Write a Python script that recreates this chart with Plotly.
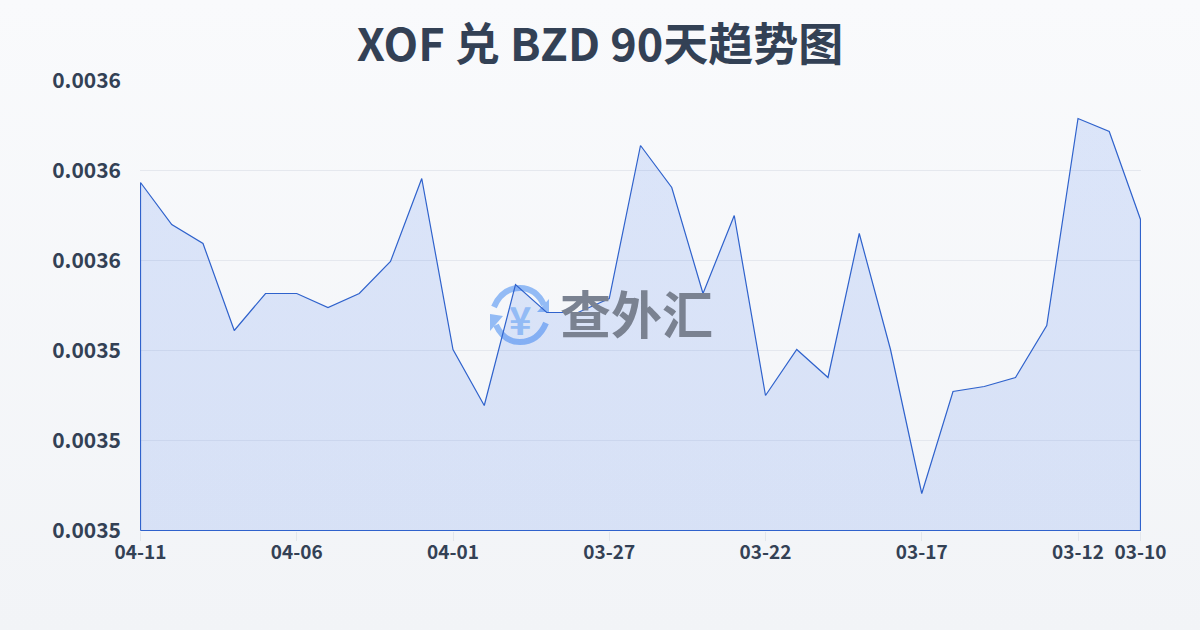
import plotly.graph_objects as go

title = "XOF 兑 BZD 90天趋势图"
dates = ["04-11","04-10","04-09","04-08","04-07","04-06","04-05","04-04","04-03","04-02","04-01",
         "03-31","03-30","03-29","03-28","03-27","03-26","03-25","03-24","03-23","03-22","03-21",
         "03-20","03-19","03-18","03-17","03-16","03-15","03-14","03-13","03-12","03-11","03-10"]
values = [0.003558667,0.003554,0.003551889,0.003542222,0.003546333,0.003546333,0.003544778,0.003546333,
          0.003549889,0.003559111,0.003540111,0.003533889,0.003547333,0.003544222,0.003544222,0.003545778,
          0.003562778,0.003558111,0.003546333,0.003555,0.003535,0.003540111,0.003537,0.003553,
          0.003540111,0.003524111,0.003535444,0.003536,0.003537,0.003542778,0.003565778,0.003564333,0.003554556]
x_ticks = ["04-11","04-06","04-01","03-27","03-22","03-17","03-12","03-10"]
y_ticks = [0.00352,0.00353,0.00354,0.00355,0.00356,0.00357]
y_labels = ["0.0035","0.0035","0.0035","0.0036","0.0036","0.0036"]
y_min, y_max = 0.00352, 0.00357

W, H = 1200, 630
L, T, PW, PH = 140, 80, 1001, 451
def px(v): return (v - L) / PW
def py(v): return 1 - (v - T) / PH
half_y = (y_max - y_min) / 450 / 2
half_x = (len(dates) - 1) / 1000 / 2
FONT = "'Noto Sans CJK SC',sans-serif"

fig = go.Figure()
fig.add_trace(go.Scatter(
    x=[dates[0]] + dates + [dates[-1], dates[0]],
    y=[y_min] + values + [y_min, y_min],
    mode="lines",
    line=dict(color="#2f62cc", width=1.2),
    fill="toself",
    fillgradient=dict(type="vertical",
                      colorscale=[[0, "rgba(37,99,235,0.135)"], [1, "rgba(37,99,235,0.135)"]]),
    hoverinfo="skip",
    showlegend=False,
    cliponaxis=False,
))

cx, cy = 520, 315
blue = "#93bbf5"
shapes = [
    dict(type="path", layer="below", xref="paper", yref="paper", line=dict(color=blue, width=6),
         path=f"M {px(cx-26)} {py(cy-8)} Q {px(cx-18)} {py(cy-27)} {px(cx)} {py(cy-27)} Q {px(cx+16)} {py(cy-27)} {px(cx+24)} {py(cy-10)}"),
    dict(type="path", layer="below", xref="paper", yref="paper", line=dict(color=blue, width=6),
         path=f"M {px(cx+26)} {py(cy+8)} Q {px(cx+18)} {py(cy+27)} {px(cx)} {py(cy+27)} Q {px(cx-16)} {py(cy+27)} {px(cx-24)} {py(cy+10)}"),
    dict(type="path", layer="below", xref="paper", yref="paper", line=dict(width=0), fillcolor=blue,
         path=f"M {px(cx+17)} {py(cy-3)} L {px(cx+29)} {py(cy-3)} L {px(cx+29)} {py(cy-16)} Z"),
    dict(type="path", layer="below", xref="paper", yref="paper", line=dict(width=0), fillcolor=blue,
         path=f"M {px(cx-30)} {py(cy-1)} L {px(cx-17)} {py(cy+1)} L {px(cx-30)} {py(cy+16)} Z"),
]

fig.update_layout(
    width=W, height=H, autosize=False,
    margin=dict(l=L, r=W-L-PW, t=T, b=H-T-PH, pad=0),
    paper_bgcolor="rgba(0,0,0,0)", plot_bgcolor="rgba(0,0,0,0)",
    font=dict(family=FONT, color="#374151"),
    title=dict(text=f"<b>{title}</b>", x=0.5, xanchor="center", xref="container", y=1-45/H, yanchor="middle",
               font=dict(size=45, color="#334155", family=FONT)),
    shapes=shapes,
    annotations=[
        dict(text="<b>¥</b>", xref="paper", yref="paper", x=px(cx), y=py(cy+3), showarrow=False,
             font=dict(size=38, color=blue), xanchor="center", yanchor="middle"),
        dict(text="<b>查外汇</b>", xref="paper", yref="paper", x=px(636), y=py(312), showarrow=False,
             font=dict(size=51, color="#7a8291", family=FONT),
             xanchor="center", yanchor="middle"),
    ],
    xaxis=dict(type="category", categoryorder="array", categoryarray=dates,
               range=[-half_x, len(dates)-1+half_x], tickmode="array", tickvals=x_ticks, ticktext=x_ticks,
               showgrid=False, zeroline=False, showline=False,
               ticks="outside", ticklen=9, tickwidth=1, tickcolor="#e2e6ec", ticklabelstandoff=-5,
               tickfont=dict(size=19, color="#334155", family=FONT, weight="bold")),
    yaxis=dict(range=[y_min-half_y, y_max+half_y], tickmode="array", tickvals=y_ticks, ticktext=y_labels,
               showgrid=True, gridcolor="#e5e8ee", gridwidth=1, zeroline=False, showline=False,
               ticks="", ticklabelstandoff=18,
               tickfont=dict(size=21, color="#334155", family=FONT, weight="bold")),
)

fig.write_html("out.html", config=dict(displayModeBar=False), post_script=
    "document.documentElement.style.height='100%';document.body.style.margin='0';"
    "document.body.style.minHeight='630px';"
    "document.body.style.background='linear-gradient(180deg,#f9fafc 0%,#f2f4f7 100%)';")
